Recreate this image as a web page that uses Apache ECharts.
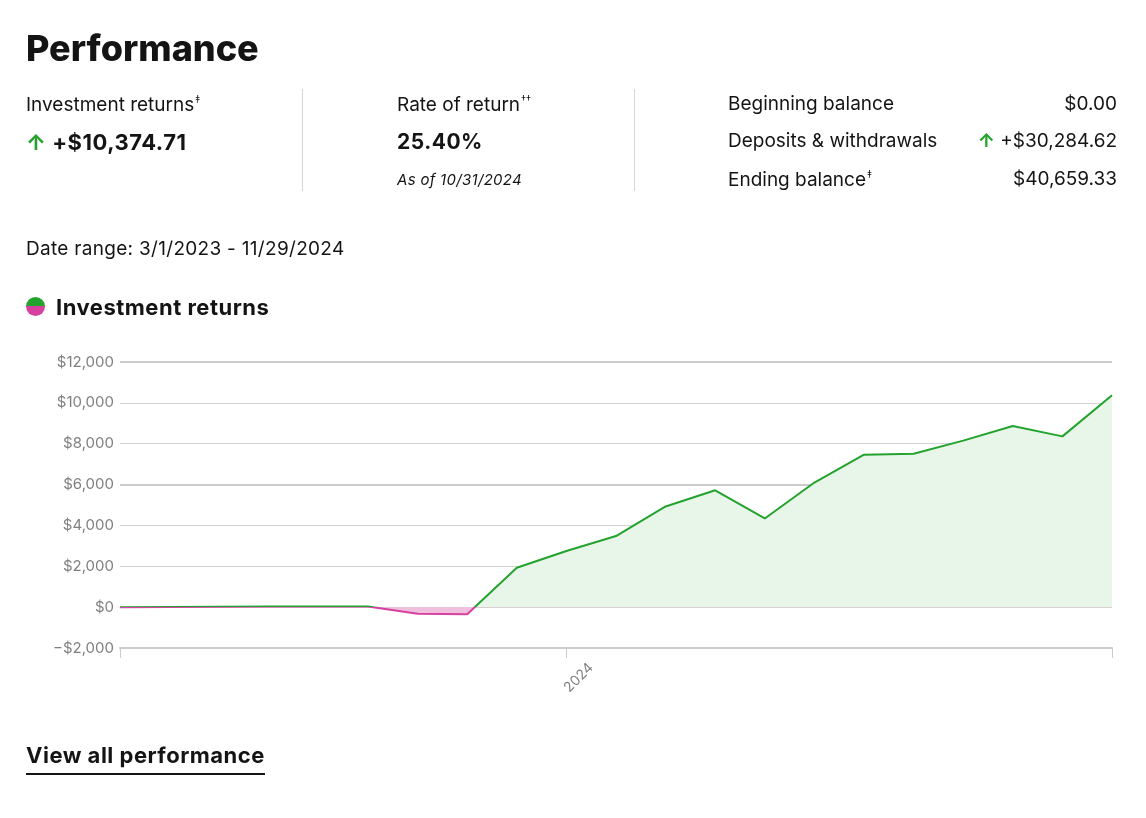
<!DOCTYPE html>
<html>
<head>
<meta charset="utf-8">
<script src="https://cdn.jsdelivr.net/npm/echarts@6/dist/echarts.min.js"></script>
<style>
body { margin: 0; background: #fff; font-family: Inter, "Noto Sans", sans-serif; color: #141414; }
#page { position: relative; width: 1146px; height: 818px; overflow: hidden; }
#main { position: absolute; left: 0; top: 0; width: 1146px; height: 818px; }
.t { position: absolute; white-space: nowrap; line-height: 1; }
.lbl { font-size: 19px; }
.big { font-size: 21px; font-weight: 700; letter-spacing: 0.5px; }
.up { color: #23a32e; font-weight: 700; }
sup { font-size: 10px; vertical-align: 8px; margin-left: 1px; }
.div { position: absolute; top: 89px; width: 1px; height: 102px; background: #d6d6d6; }
.r { text-align: right; right: 29px; }
#dot { position: absolute; left: 26px; top: 297px; width: 19px; height: 19px; border-radius: 50%;
       background: linear-gradient(#23a32e 50%, #d6409f 50%); }
#link { border-bottom: 2px solid #141414; padding-bottom: 5px; }
</style>
</head>
<body>
<div id="page">
  <div id="main"></div>

  <div class="t" style="left:26px;top:30px;font-size:36px;font-weight:800;">Performance</div>

  <div class="t lbl" style="left:26px;top:94px;">Investment returns<sup>‡</sup></div>
  <div class="t big" style="left:26px;top:131px;font-size:22px;"><span class="up">↑</span> +$10,374.71</div>
  <div class="div" style="left:302px;"></div>

  <div class="t lbl" style="left:397px;top:94px;">Rate of return<sup>††</sup></div>
  <div class="t big" style="left:397px;top:131px;">25.40%</div>
  <div class="t" style="left:397px;top:172px;font-size:15px;font-style:italic;letter-spacing:0.3px;">As of 10/31/2024</div>
  <div class="div" style="left:634px;"></div>

  <div class="t lbl" style="left:728px;top:94px;">Beginning balance</div>
  <div class="t lbl r" style="top:94px;">$0.00</div>
  <div class="t lbl" style="left:728px;top:131px;">Deposits &amp; withdrawals</div>
  <div class="t lbl r" style="top:131px;"><span class="up">↑</span> +$30,284.62</div>
  <div class="t lbl" style="left:728px;top:169px;">Ending balance<sup>‡</sup></div>
  <div class="t lbl r" style="top:169px;">$40,659.33</div>

  <div class="t" style="left:26px;top:239px;font-size:19px;letter-spacing:0.3px;">Date range: 3/1/2023 - 11/29/2024</div>

  <div id="dot"></div>
  <div class="t big" style="left:56px;top:296px;font-size:22px;">Investment returns</div>

  <div class="t big" style="left:26px;top:744px;font-size:22px;"><span id="link">View all performance</span></div>
</div>

<script>
// month points from the start of the date range, one per month
var months = ['2023-03', '2023-04', '2023-05', '2023-06', '2023-07', '2023-08', '2023-09',
  '2023-10', '2023-11', '2023-12', '2024-01', '2024-02', '2024-03', '2024-04', '2024-05',
  '2024-06', '2024-07', '2024-08', '2024-09', '2024-10', '2024-11'];
// cumulative investment returns ($)
var returns = [-10, 10, 20, 30, 30, 30, -320, -350, 1925, 2750, 3480, 4930, 5720, 4340,
  6100, 7460, 7510, 8150, 8870, 8360, 10374.71];
// x axis label shown on the chart
var yearTickIndex = 9;
var yearTickLabel = '2024';

var green = '#23a32e';
var pink = '#d6409f';
var greenFill = '#e8f5e9';
var pinkFill = '#efbfdc';
var gridColor = '#d3d3d3';

var chart = echarts.init(document.getElementById('main'));

function money(v) {
  var s = '$' + Math.abs(v).toLocaleString('en-US');
  return v < 0 ? '\u2212' + s : s;
}

// below zero -> pink, zero and above -> green
function signPieces(neg, pos) {
  return [{ gte: -1e6, lt: 0, color: neg }, { gte: 0, lte: 1e6, color: pos }];
}

var option = {
  animation: false,
  textStyle: { fontFamily: 'Inter, "Noto Sans", sans-serif' },
  grid: { left: 120, right: 34, top: 362, bottom: 170 },
  xAxis: {
    type: 'category',
    data: months,
    boundaryGap: false,
    axisLine: { onZero: false, lineStyle: { color: '#cccccc', width: 2 } },
    axisTick: {
      length: 10,
      lineStyle: { color: '#cccccc', width: 1 },
      interval: function (i) { return i === 0 || i === yearTickIndex || i === months.length - 1; }
    },
    axisLabel: {
      interval: function (i) { return i === yearTickIndex; },
      formatter: function () { return yearTickLabel; },
      rotate: 45,
      align: 'left',
      verticalAlign: 'middle',
      margin: 42,
      color: '#808080',
      fontSize: 14
    },
    splitLine: { show: false }
  },
  yAxis: {
    type: 'value',
    min: -2000,
    max: 12000,
    interval: 2000,
    axisLine: { show: false },
    axisTick: { show: false },
    axisLabel: { color: '#808080', fontSize: 15, margin: 6, formatter: money },
    splitLine: { lineStyle: { color: gridColor, width: 1 } }
  },
  visualMap: [{
    type: 'piecewise',
    show: false,
    seriesIndex: 0,
    dimension: 1,
    pieces: signPieces(pinkFill, greenFill),
    outOfRange: { color: greenFill }
  }, {
    type: 'piecewise',
    show: false,
    seriesIndex: 1,
    dimension: 1,
    pieces: signPieces(pink, green),
    outOfRange: { color: green }
  }],
  series: [{
    // filled area only
    type: 'line',
    data: returns,
    symbol: 'none',
    lineStyle: { width: 0 },
    areaStyle: { opacity: 1 },
    silent: true,
    z: 2
  }, {
    type: 'line',
    data: returns,
    symbol: 'none',
    lineStyle: { width: 2 },
    z: 3
  }, {
    // heavier grid lines, kept under the fill
    type: 'line',
    data: [],
    z: 1,
    markLine: {
      z: 1,
      silent: true,
      symbol: 'none',
      label: { show: false },
      lineStyle: { color: '#cccccc', width: 2, type: 'solid' },
      data: [{ yAxis: 12000 }, { yAxis: 6000 }]
    }
  }]
};

chart.setOption(option);
</script>
</body>
</html>
